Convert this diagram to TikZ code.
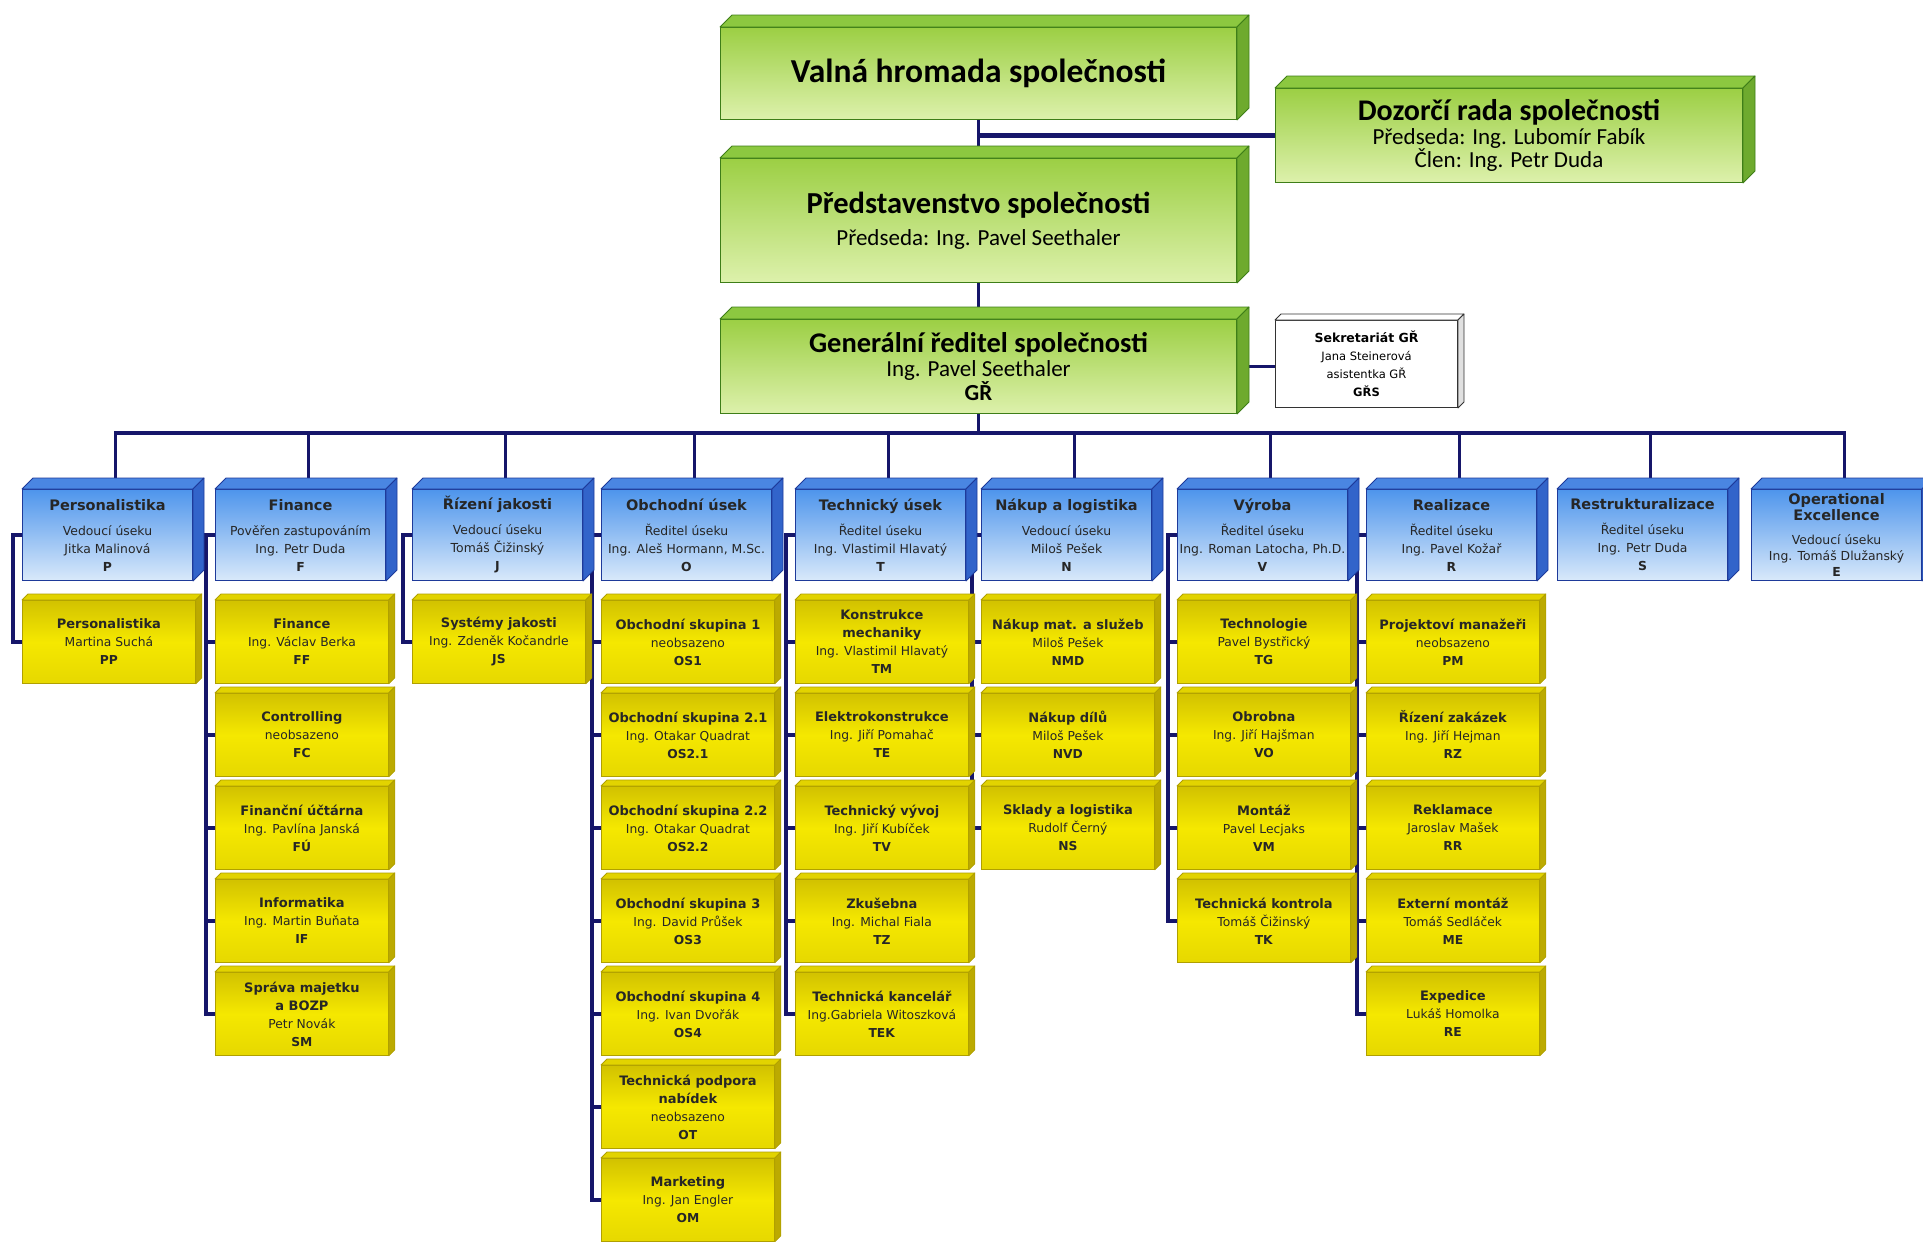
\documentclass[tikz,border=0pt]{standalone}
\usepackage{fontspec}
\setmainfont{DejaVu Sans}
\newfontfamily\boardfont{Carlito}
\usetikzlibrary{calc,backgrounds}

\definecolor{orgnavy}{HTML}{16166A}
\definecolor{greentop}{HTML}{9CCF44}
\definecolor{greenbot}{HTML}{DDF1AC}
\definecolor{greenlid}{HTML}{8CC840}
\definecolor{greenside}{HTML}{6EAA2E}
\definecolor{greenedge}{HTML}{3E7E18}
\definecolor{bluetop}{HTML}{4E95EC}
\definecolor{bluebot}{HTML}{D9E9FA}
\definecolor{bluelid}{HTML}{4A86E2}
\definecolor{blueside}{HTML}{3264CA}
\definecolor{blueedge}{HTML}{1E3A9A}
\definecolor{yellowtop}{HTML}{D2C200}
\definecolor{yellowmid}{HTML}{F5E800}
\definecolor{yellowbot}{HTML}{E6D800}
\definecolor{yellowlid}{HTML}{E2D300}
\definecolor{yellowside}{HTML}{BCAA00}
\definecolor{yellowedge}{HTML}{B0A000}

% faces of the raised boxes: top lid and right side
\newcommand{\boxdepth}[5]{%
  \filldraw[fill=#3,draw=#5,line width=0.8pt,line join=round]
    (#1.north west) -- ++(#2,-#2) -- ($(#1.north east)+(#2,-#2)$) -- (#1.north east) -- cycle;
  \filldraw[fill=#4,draw=#5,line width=0.8pt,line join=round]
    (#1.north east) -- ++(#2,-#2) -- ($(#1.south east)+(#2,-#2)$) -- (#1.south east) -- cycle;
}
\newcommand{\greendepth}[1]{\boxdepth{#1}{12}{greenlid}{greenside}{greenedge}}
\newcommand{\bluedepth}[1]{\boxdepth{#1}{11}{bluelid}{blueside}{blueedge}}
\newcommand{\yellowdepth}[1]{\boxdepth{#1}{6}{yellowlid}{yellowside}{yellowedge}}
\newcommand{\whitedepth}[1]{\boxdepth{#1}{6}{white}{black!12}{black!80}}

\newcommand{\unithead}[1]{{\fontsize{14.5}{18}\selectfont\bfseries #1}}
\newcommand{\depthead}[1]{{\fontsize{13}{18}\selectfont\bfseries #1}}

\tikzset{
  boardbox/.style={draw=greenedge, line width=1pt, top color=greentop, bottom color=greenbot,
    anchor=north west, inner sep=0pt, align=center, text=black},
  officebox/.style={draw=black!80, line width=1pt, fill=white, anchor=north west, inner sep=0pt,
    align=center, minimum width=182pt, minimum height=87pt, font=\fontsize{11.5}{18}\selectfont},
  unitbox/.style={draw=blueedge, line width=1pt, top color=bluetop, bottom color=bluebot,
    anchor=north west, inner sep=0pt, align=center, minimum width=170pt, minimum height=91pt,
    font=\fontsize{12.4}{18}\selectfont, text=black!85},
  deptbox/.style={draw=yellowedge, line width=0.8pt, top color=yellowtop, bottom color=yellowbot,
    middle color=yellowmid, anchor=north west, inner sep=0pt, align=center,
    minimum width=173pt, minimum height=83pt, font=\fontsize{12.3}{18}\selectfont, text=black!85},
  orgline/.style={draw=orgnavy, line width=3.5pt}
}

\begin{document}
\begin{tikzpicture}[x=1pt,y=-1pt]
\useasboundingbox (0,0) rectangle (1923,1242);

% board, supervisory board, general director
\node[boardbox, minimum width=516pt, minimum height=92pt, font=\boardfont\bfseries\fontsize{33.5}{36}\selectfont]
  (VH) at (720,27) {Valná hromada společnosti}; \greendepth{VH}
\node[boardbox, minimum width=467pt, minimum height=94pt, font=\boardfont\fontsize{23}{22}\selectfont]
  (DR) at (1275,88) {{\bfseries\fontsize{30}{30}\selectfont Dozorčí rada společnosti}\\[2pt]Předseda: Ing. Lubomír Fabík\\Člen: Ing. Petr Duda}; \greendepth{DR}
\node[boardbox, minimum width=516pt, minimum height=124pt, font=\boardfont\fontsize{23}{24}\selectfont]
  (PS) at (720,158) {{\bfseries\fontsize{30.5}{30}\selectfont Představenstvo společnosti}\\[8pt]Předseda: Ing. Pavel Seethaler}; \greendepth{PS}
\node[boardbox, minimum width=516pt, minimum height=94pt, font=\boardfont\fontsize{23}{24}\selectfont]
  (GR) at (720,319) {{\bfseries\fontsize{28.5}{28}\selectfont Generální ředitel společnosti}\\Ing. Pavel Seethaler\\\textbf{GŘ}}; \greendepth{GR}
\node[officebox] (SK) at (1275,320) {{\bfseries\fontsize{12.5}{18}\selectfont Sekretariát GŘ}\\Jana Steinerová\\asistentka GŘ\\\textbf{GŘS}}; \whitedepth{SK}

% sections
\node[unitbox] (P) at (22,489) {\unithead{Personalistika}\\[7pt]Vedoucí úseku\\Jitka Malinová\\\textbf{P}}; \bluedepth{P}
\node[unitbox] (F) at (215,489) {\unithead{Finance}\\[7pt]Pověřen zastupováním\\Ing. Petr Duda\\\textbf{F}}; \bluedepth{F}
\node[unitbox] (J) at (412,489) {\unithead{Řízení jakosti}\\[7pt]Vedoucí úseku\\Tomáš Čižinský\\\textbf{J}}; \bluedepth{J}
\node[unitbox] (O) at (601,489) {\unithead{Obchodní úsek}\\[7pt]Ředitel úseku\\Ing. Aleš Hormann, M.Sc.\\\textbf{O}}; \bluedepth{O}
\node[unitbox] (T) at (795,489) {\unithead{Technický úsek}\\[7pt]Ředitel úseku\\Ing. Vlastimil Hlavatý\\\textbf{T}}; \bluedepth{T}
\node[unitbox] (N) at (981,489) {\unithead{Nákup a logistika}\\[7pt]Vedoucí úseku\\Miloš Pešek\\\textbf{N}}; \bluedepth{N}
\node[unitbox] (V) at (1177,489) {\unithead{Výroba}\\[7pt]Ředitel úseku\\Ing. Roman Latocha, Ph.D.\\\textbf{V}}; \bluedepth{V}
\node[unitbox] (R) at (1366,489) {\unithead{Realizace}\\[7pt]Ředitel úseku\\Ing. Pavel Kožař\\\textbf{R}}; \bluedepth{R}
\node[unitbox] (S) at (1557,489) {\unithead{Restrukturalizace}\\[7pt]Ředitel úseku\\Ing. Petr Duda\\\textbf{S}}; \bluedepth{S}
\node[unitbox] (E) at (1751,489) {\unithead{Operational}\\[-2pt]\unithead{Excellence}\\[6pt]Vedoucí úseku\\[-2pt]Ing. Tomáš Dlužanský\\[-2pt]\textbf{E}}; \bluedepth{E}

% departments
\node[deptbox] (PP) at (22,600) {\depthead{Personalistika}\\Martina Suchá\\\textbf{PP}}; \yellowdepth{PP}

\node[deptbox] (FF) at (215,600) {\depthead{Finance}\\Ing. Václav Berka\\\textbf{FF}}; \yellowdepth{FF}
\node[deptbox] (FC) at (215,693) {\depthead{Controlling}\\neobsazeno\\\textbf{FC}}; \yellowdepth{FC}
\node[deptbox] (FU) at (215,786) {\depthead{Finanční účtárna}\\Ing. Pavlína Janská\\\textbf{FÚ}}; \yellowdepth{FU}
\node[deptbox] (IF) at (215,879) {\depthead{Informatika}\\Ing. Martin Buňata\\\textbf{IF}}; \yellowdepth{IF}
\node[deptbox] (SM) at (215,972) {\depthead{Správa majetku}\\\depthead{a BOZP}\\Petr Novák\\\textbf{SM}}; \yellowdepth{SM}

\node[deptbox] (JS) at (412,600) {\depthead{Systémy jakosti}\\Ing. Zdeněk Kočandrle\\\textbf{JS}}; \yellowdepth{JS}

\node[deptbox] (OS1) at (601,600) {\depthead{Obchodní skupina 1}\\neobsazeno\\\textbf{OS1}}; \yellowdepth{OS1}
\node[deptbox] (OS21) at (601,693) {\depthead{Obchodní skupina 2.1}\\Ing. Otakar Quadrat\\\textbf{OS2.1}}; \yellowdepth{OS21}
\node[deptbox] (OS22) at (601,786) {\depthead{Obchodní skupina 2.2}\\Ing. Otakar Quadrat\\\textbf{OS2.2}}; \yellowdepth{OS22}
\node[deptbox] (OS3) at (601,879) {\depthead{Obchodní skupina 3}\\Ing. David Průšek\\\textbf{OS3}}; \yellowdepth{OS3}
\node[deptbox] (OS4) at (601,972) {\depthead{Obchodní skupina 4}\\Ing. Ivan Dvořák\\\textbf{OS4}}; \yellowdepth{OS4}
\node[deptbox] (OT) at (601,1065) {\depthead{Technická podpora}\\\depthead{nabídek}\\neobsazeno\\\textbf{OT}}; \yellowdepth{OT}
\node[deptbox] (OM) at (601,1158) {\depthead{Marketing}\\Ing. Jan Engler\\\textbf{OM}}; \yellowdepth{OM}

\node[deptbox] (TM) at (795,600) {\depthead{Konstrukce}\\\depthead{mechaniky}\\Ing. Vlastimil Hlavatý\\\textbf{TM}}; \yellowdepth{TM}
\node[deptbox] (TE) at (795,693) {\depthead{Elektrokonstrukce}\\Ing. Jiří Pomahač\\\textbf{TE}}; \yellowdepth{TE}
\node[deptbox] (TV) at (795,786) {\depthead{Technický vývoj}\\Ing. Jiří Kubíček\\\textbf{TV}}; \yellowdepth{TV}
\node[deptbox] (TZ) at (795,879) {\depthead{Zkušebna}\\Ing. Michal Fiala\\\textbf{TZ}}; \yellowdepth{TZ}
\node[deptbox] (TEK) at (795,972) {\depthead{Technická kancelář}\\Ing.Gabriela Witoszková\\\textbf{TEK}}; \yellowdepth{TEK}

\node[deptbox] (NMD) at (981,600) {\depthead{Nákup mat. a služeb}\\Miloš Pešek\\\textbf{NMD}}; \yellowdepth{NMD}
\node[deptbox] (NVD) at (981,693) {\depthead{Nákup dílů}\\Miloš Pešek\\\textbf{NVD}}; \yellowdepth{NVD}
\node[deptbox] (NS) at (981,786) {\depthead{Sklady a logistika}\\Rudolf Černý\\\textbf{NS}}; \yellowdepth{NS}

\node[deptbox] (TG) at (1177,600) {\depthead{Technologie}\\Pavel Bystřický\\\textbf{TG}}; \yellowdepth{TG}
\node[deptbox] (VO) at (1177,693) {\depthead{Obrobna}\\Ing. Jiří Hajšman\\\textbf{VO}}; \yellowdepth{VO}
\node[deptbox] (VM) at (1177,786) {\depthead{Montáž}\\Pavel Lecjaks\\\textbf{VM}}; \yellowdepth{VM}
\node[deptbox] (TK) at (1177,879) {\depthead{Technická kontrola}\\Tomáš Čižinský\\\textbf{TK}}; \yellowdepth{TK}

\node[deptbox] (PM) at (1366,600) {\depthead{Projektoví manažeři}\\neobsazeno\\\textbf{PM}}; \yellowdepth{PM}
\node[deptbox] (RZ) at (1366,693) {\depthead{Řízení zakázek}\\Ing. Jiří Hejman\\\textbf{RZ}}; \yellowdepth{RZ}
\node[deptbox] (RR) at (1366,786) {\depthead{Reklamace}\\Jaroslav Mašek\\\textbf{RR}}; \yellowdepth{RR}
\node[deptbox] (ME) at (1366,879) {\depthead{Externí montáž}\\Tomáš Sedláček\\\textbf{ME}}; \yellowdepth{ME}
\node[deptbox] (RE) at (1366,972) {\depthead{Expedice}\\Lukáš Homolka\\\textbf{RE}}; \yellowdepth{RE}

% connectors behind the boxes
\begin{scope}[on background layer]
  \draw[orgline] (VH.south) -- (PS.north);
  \draw[orgline, line width=5pt] (DR.west) -- (DR.west -| VH.south);
  \draw[orgline] (PS.south) -- (GR.north);
  \draw[orgline] (GR.east) -- (GR.east -| SK.west);

  \draw[orgline] (GR.south) -- ++(0,19) -| ($(P.north)+(8,0)$);
  \draw[orgline] (GR.south) -- ++(0,19) -| ($(F.north)+(8,0)$);
  \draw[orgline] (GR.south) -- ++(0,19) -| ($(J.north)+(8,0)$);
  \draw[orgline] (GR.south) -- ++(0,19) -| ($(O.north)+(8,0)$);
  \draw[orgline] (GR.south) -- ++(0,19) -| ($(T.north)+(8,0)$);
  \draw[orgline] (GR.south) -- ++(0,19) -| ($(N.north)+(8,0)$);
  \draw[orgline] (GR.south) -- ++(0,19) -| ($(V.north)+(8,0)$);
  \draw[orgline] (GR.south) -- ++(0,19) -| ($(R.north)+(8,0)$);
  \draw[orgline] (GR.south) -- ++(0,19) -| ($(S.north)+(8,0)$);
  \draw[orgline] (GR.south) -- ++(0,19) -| ($(E.north)+(8,0)$);

  \draw[orgline] (P.west) -- ++(-9,0) |- (PP.west);

  \draw[orgline] (F.west) -- ++(-9,0) |- (FF.west);
  \draw[orgline] (F.west) -- ++(-9,0) |- (FC.west);
  \draw[orgline] (F.west) -- ++(-9,0) |- (FU.west);
  \draw[orgline] (F.west) -- ++(-9,0) |- (IF.west);
  \draw[orgline] (F.west) -- ++(-9,0) |- (SM.west);

  \draw[orgline] (J.west) -- ++(-9,0) |- (JS.west);

  \draw[orgline] (O.west) -- ++(-9,0) |- (OS1.west);
  \draw[orgline] (O.west) -- ++(-9,0) |- (OS21.west);
  \draw[orgline] (O.west) -- ++(-9,0) |- (OS22.west);
  \draw[orgline] (O.west) -- ++(-9,0) |- (OS3.west);
  \draw[orgline] (O.west) -- ++(-9,0) |- (OS4.west);
  \draw[orgline] (O.west) -- ++(-9,0) |- (OT.west);
  \draw[orgline] (O.west) -- ++(-9,0) |- (OM.west);

  \draw[orgline] (T.west) -- ++(-9,0) |- (TM.west);
  \draw[orgline] (T.west) -- ++(-9,0) |- (TE.west);
  \draw[orgline] (T.west) -- ++(-9,0) |- (TV.west);
  \draw[orgline] (T.west) -- ++(-9,0) |- (TZ.west);
  \draw[orgline] (T.west) -- ++(-9,0) |- (TEK.west);

  \draw[orgline] (N.west) -- ++(-9,0) |- (NMD.west);
  \draw[orgline] (N.west) -- ++(-9,0) |- (NVD.west);
  \draw[orgline] (N.west) -- ++(-9,0) |- (NS.west);

  \draw[orgline] (V.west) -- ++(-9,0) |- (TG.west);
  \draw[orgline] (V.west) -- ++(-9,0) |- (VO.west);
  \draw[orgline] (V.west) -- ++(-9,0) |- (VM.west);
  \draw[orgline] (V.west) -- ++(-9,0) |- (TK.west);

  \draw[orgline] (R.west) -- ++(-9,0) |- (PM.west);
  \draw[orgline] (R.west) -- ++(-9,0) |- (RZ.west);
  \draw[orgline] (R.west) -- ++(-9,0) |- (RR.west);
  \draw[orgline] (R.west) -- ++(-9,0) |- (ME.west);
  \draw[orgline] (R.west) -- ++(-9,0) |- (RE.west);
\end{scope}
\end{tikzpicture}
\end{document}
